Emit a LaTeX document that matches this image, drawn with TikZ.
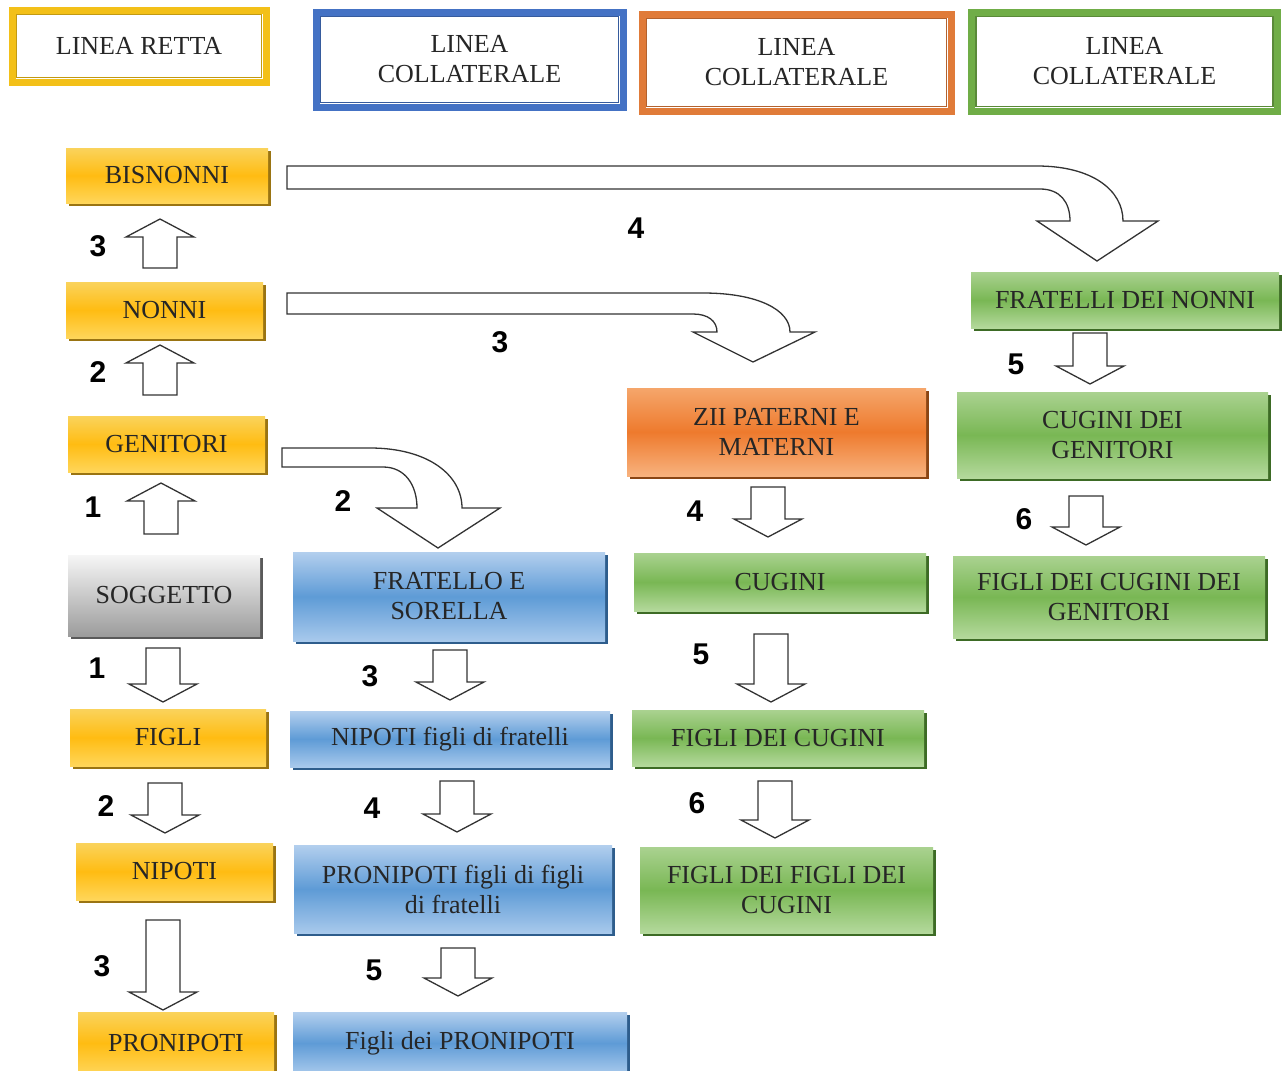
\documentclass[tikz,border=0pt]{standalone}
\usepackage{xcolor}
\usepackage{fontspec}
\setmainfont{Liberation Serif}
\newfontfamily\numfont{Liberation Sans}
\usepackage{tikz}
\usetikzlibrary{calc}
\usetikzlibrary{shadows}
\usetikzlibrary{positioning}

\definecolor{yelT}{HTML}{FAD35C}
\definecolor{yelM}{HTML}{FFBC12}
\definecolor{yelB}{HTML}{FFD65A}
\definecolor{yelS}{HTML}{9A7412}
\definecolor{bluT}{HTML}{B3CFEE}
\definecolor{bluM}{HTML}{5E9BD6}
\definecolor{bluB}{HTML}{A8C9EC}
\definecolor{bluS}{HTML}{2E5D8C}
\definecolor{oraT}{HTML}{F5A66B}
\definecolor{oraM}{HTML}{EE7A2D}
\definecolor{oraB}{HTML}{F8B27E}
\definecolor{oraS}{HTML}{8A4514}
\definecolor{greT}{HTML}{AAD290}
\definecolor{greM}{HTML}{79B754}
\definecolor{greB}{HTML}{B4D99C}
\definecolor{greS}{HTML}{3D6B25}
\definecolor{gryT}{HTML}{F6F6F6}
\definecolor{gryB}{HTML}{9C9C9C}
\definecolor{gryS}{HTML}{5A5A5A}
\definecolor{yelL}{HTML}{F3C018}
\definecolor{bluL}{HTML}{4472C4}
\definecolor{oraL}{HTML}{E07B39}
\definecolor{greL}{HTML}{70AD47}

\tikzset{
 txt/.style={font=\fontsize{26}{30}\selectfont, text=black!85, align=center, inner sep=0pt},
 famb/.style 2 args={txt, minimum width=#1pt, minimum height=#2pt},
 yelbox/.style={top color=yelT, bottom color=yelB, middle color=yelM,
   drop shadow={shadow xshift=2.5pt, shadow yshift=-3pt, fill=yelS, opacity=1}},
 blubox/.style={top color=bluT, bottom color=bluB, middle color=bluM,
   drop shadow={shadow xshift=2.5pt, shadow yshift=-3pt, fill=bluS, opacity=1}},
 orabox/.style={top color=oraT, bottom color=oraB, middle color=oraM,
   drop shadow={shadow xshift=2.5pt, shadow yshift=-3pt, fill=oraS, opacity=1}},
 grebox/.style={top color=greT, bottom color=greB, middle color=greM,
   drop shadow={shadow xshift=2.5pt, shadow yshift=-3pt, fill=greS, opacity=1}},
 grybox/.style={top color=gryT, bottom color=gryB,
   drop shadow={shadow xshift=2.5pt, shadow yshift=-3pt, fill=gryS, opacity=1}},
 headbox/.style={txt, draw=#1, line width=7pt, fill=white},
 blkarr/.style={draw=black!80, fill=white, line width=1.3pt, line join=miter},
 num/.style={font=\numfont\bfseries\fontsize{30}{30}\selectfont, inner sep=0pt}
}

% vertical block arrow from #1 (tail) to #2 (tip)
\newcommand\blkarrow[2]{%
 \draw[blkarr] ($(#1)+(-17,0)$) -- ($(#2)!18pt!(#1)+(-17,0)$) -- ($(#2)!18pt!(#1)+(-34,0)$)
  -- (#2) -- ($(#2)!18pt!(#1)+(34,0)$) -- ($(#2)!18pt!(#1)+(17,0)$) -- ($(#1)+(17,0)$) -- cycle;}

\begin{document}
\begin{tikzpicture}[x=1pt, y=-1pt]
 \useasboundingbox[fill=white] (0,0) rectangle (1283,1071);

 % headers
 \node [headbox=yelL, minimum width=254pt, minimum height=72pt] (hretta) at (139,46) {LINEA RETTA};
 \node [headbox=bluL, minimum width=307pt, minimum height=95pt] (hblu) at (469.5,59.5) {LINEA\\COLLATERALE};
 \node [headbox=oraL, minimum width=309pt, minimum height=97pt] (hora) at (796.5,62.5) {LINEA\\COLLATERALE};
 \node [headbox=greL, minimum width=306pt, minimum height=99pt] (hgre) at (1124.5,61.5) {LINEA\\COLLATERALE};
 \foreach \h/\c in {hretta/yelL, hblu/bluL, hora/oraL, hgre/greL}
  \draw [\c!80!black, line width=1.2pt] ($(\h.north west)+(8,8)$) rectangle ($(\h.south east)+(-8,-8)$);

 % linea retta
 \node [famb={202}{55}, yelbox] (bisnonni) at (167,175.5) {BISNONNI};
 \node [famb={197}{56}, yelbox] (nonni) at (164.5,310) {NONNI};
 \node [famb={197}{56}, yelbox] (genitori) at (166.5,444) {GENITORI};
 \node [famb={192}{81}, grybox] (soggetto) at (164,595.5) {SOGGETTO};
 \node [famb={196}{57}, yelbox] (figli) at (168,737.5) {FIGLI};
 \node [famb={197}{57}, yelbox] (nipoti) at (174.5,871.5) {NIPOTI};
 \node [famb={196}{62}, yelbox] (pronipoti) at (176,1043) {PRONIPOTI};

 % fratelli
 \node [famb={312}{89}, blubox] (fratello) at (449,596.5) {FRATELLO E\\SORELLA};
 \node [famb={320}{56}, blubox] (nipfrat) at (450,739) {NIPOTI figli di fratelli};
 \node [famb={318}{88}, blubox] (pronfrat) at (453,889) {PRONIPOTI figli di figli\\di fratelli};
 \node [famb={334}{62}, blubox] (figlipron) at (460,1043) {Figli dei PRONIPOTI};

 % zii
 \node [famb={299}{88}, orabox] (zii) at (776.5,432) {ZII PATERNI E\\MATERNI};
 \node [famb={292}{58}, grebox] (cugini) at (780,582) {CUGINI};
 \node [famb={292}{56}, grebox] (figlicug) at (778,738) {FIGLI DEI CUGINI};
 \node [famb={293}{86}, grebox] (figlifiglicug) at (786.5,890) {FIGLI DEI FIGLI DEI\\CUGINI};

 % prozii
 \node [famb={308}{56}, grebox] (fratnonni) at (1125,300) {FRATELLI DEI NONNI};
 \node [famb={311}{86}, grebox] (cuggen) at (1112.5,435) {CUGINI DEI\\GENITORI};
 \node [famb={312}{82}, grebox] (figlicuggen) at (1109,597) {FIGLI DEI CUGINI DEI\\GENITORI};

 % curved arrows
 \draw [blkarr] (287,166) -- (1037,166) .. controls (1092,166) and (1123,190) .. (1123,221)
  -- (1158,221) -- (1097,261) -- (1037,221) -- (1070,221) .. controls (1070,202) and (1060,189) .. (1040,189)
  -- (287,189) -- cycle;
 \draw [blkarr] (287,293) -- (703,293) .. controls (758,293) and (790,310) .. (790,332)
  -- (815,332) -- (753,362) -- (693,332) -- (717,332) .. controls (717,321) and (708,314) .. (693,314)
  -- (287,314) -- cycle;
 \draw [blkarr] (282,448) -- (370,448) .. controls (428,448) and (462,475) .. (462,508)
  -- (500,508) -- (438,548) -- (377,508) -- (417,508) .. controls (417,485) and (405,467) .. (383,467)
  -- (282,467) -- cycle;

 % straight arrows
 \coordinate (u3s) at (160,268); \coordinate (u3t) at (160,219);
 \coordinate (u2s) at (160,395); \coordinate (u2t) at (160,345);
 \coordinate (u1s) at (161,534); \coordinate (u1t) at (161,483);
 \coordinate (d1s) at (163,648); \coordinate (d1t) at (163,702);
 \coordinate (d2s) at (165,783); \coordinate (d2t) at (165,833);
 \coordinate (d3s) at (163,920); \coordinate (d3t) at (163,1010);
 \coordinate (b3s) at (450,650); \coordinate (b3t) at (450,700);
 \coordinate (b4s) at (457,781); \coordinate (b4t) at (457,832);
 \coordinate (b5s) at (458,948); \coordinate (b5t) at (458,996);
 \coordinate (m4s) at (768,487); \coordinate (m4t) at (768,537);
 \coordinate (m5s) at (771,634); \coordinate (m5t) at (771,702);
 \coordinate (m6s) at (775,781); \coordinate (m6t) at (775,838);
 \coordinate (r5s) at (1090,333); \coordinate (r5t) at (1090,384);
 \coordinate (r6s) at (1086,496); \coordinate (r6t) at (1086,545);
 \foreach \a in {u3,u2,u1,d1,d2,d3,b3,b4,b5,m4,m5,m6,r5,r6}
  \blkarrow{\a s}{\a t};

 % step numbers
 \node [num] (nb4) at (636,228) {4};
 \node [num] (nn3) at (500,342) {3};
 \node [num] (ng2) at (343,501) {2};
 \node [num] (nu3) at (98,246) {3};
 \node [num] (nu2) at (98,372) {2};
 \node [num] (nu1) at (93,507) {1};
 \node [num] (nd1) at (97,668) {1};
 \node [num] (nd2) at (106,806) {2};
 \node [num] (nd3) at (102,966) {3};
 \node [num] (nf3) at (370,676) {3};
 \node [num] (nf4) at (372,808) {4};
 \node [num] (nf5) at (374,970) {5};
 \node [num] (nz4) at (695,511) {4};
 \node [num] (nz5) at (701,654) {5};
 \node [num] (nz6) at (697,803) {6};
 \node [num] (np5) at (1016,364) {5};
 \node [num] (np6) at (1024,519) {6};
\end{tikzpicture}
\end{document}
